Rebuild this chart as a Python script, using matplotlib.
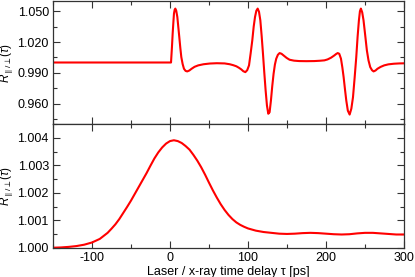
import numpy as np
import matplotlib.pyplot as plt
from matplotlib.ticker import MultipleLocator


# upper panel: R_par/perp(tau)
tau_top = [-150, 0, 1.3, 2.5, 3.4, 4.3, 5.1, 6.0, 6.8, 8.0, 9.4, 10.6, 11.9,
           13.2, 14.5, 16.2, 17.9, 20, 22.1, 24.8, 27.7, 31.5, 36.2, 43, 51.1,
           60, 70, 76.6, 81, 85.1, 88.5, 91.5, 94, 96.6, 99, 101.3, 103.4,
           105.5, 107.3, 109, 110.7, 112.4, 114.1, 115.8, 117.5, 119.2, 120.9,
           122.6, 124.3, 126, 127.7, 129.4, 131.1, 132.8, 134.5, 136.2, 138.3,
           140.5, 143, 145.6, 149.5, 153.3, 159, 165.6, 175, 185, 192, 198,
           202, 206.5, 210.5, 213, 215, 217, 219.2, 221, 222.6, 224.3, 226,
           228, 230.3, 232.5, 234.6, 236.7, 238.8, 240.5, 242.2, 243.5, 244.7,
           246.4, 248.1, 250.2, 252.4, 254.5, 256.7, 259, 261, 263.5, 266, 270,
           274.6, 280, 287, 294, 300]
r_top = [1.000, 1.000, 1.000, 1.015, 1.028, 1.039, 1.0478, 1.0515, 1.0526,
         1.0505, 1.0444, 1.035, 1.0249, 1.0145, 1.0053, 0.9985, 0.9939, 0.9918,
         0.9913, 0.9922, 0.9939, 0.9958, 0.9972, 0.9983, 0.9990, 0.9993,
         0.9991, 0.9983, 0.9974, 0.9963, 0.9948, 0.9932, 0.9915, 0.9906,
         0.9925, 0.9972, 1.009, 1.0216, 1.035, 1.0444, 1.0505, 1.0526, 1.0495,
         1.0412, 1.026, 1.0086, 0.990, 0.9727, 0.958, 0.9500, 0.9515, 0.9629,
         0.977, 0.9890, 0.998, 1.0037, 1.0075, 1.0092, 1.0085, 1.0069, 1.0045,
         1.0027, 1.0018, 1.0014, 1.0013, 1.0014, 1.0017, 1.0021, 1.0030,
         1.0047, 1.0068, 1.0083, 1.0092, 1.0085, 1.0037, 0.995, 0.9857, 0.974,
         0.9629, 0.953, 0.9492, 0.955, 0.9661, 0.985, 1.0053, 1.025, 1.0412,
         1.050, 1.0526, 1.049, 1.0412, 1.027, 1.0118, 1.002, 0.9955, 0.9925,
         0.9913, 0.9922, 0.9939, 0.9957, 0.9972, 0.9982, 0.9988, 0.9991,
         0.9992]

# lower panel
tau_bot = [-150, -140, -130, -120, -110, -100, -90, -80, -75, -70, -65, -60,
           -55, -50, -45, -40, -35, -30, -25, -20, -15, -10, -5, 0, 5, 10, 15,
           20, 25, 30, 35, 40, 45, 50, 55, 60, 65, 70, 75, 80, 85, 90, 95, 100,
           110, 120, 130, 140, 150, 160, 170, 180, 190, 200, 210, 220, 230,
           240, 250, 260, 270, 280, 290, 300]
r_bot = [1.00001, 1.00002, 1.00004, 1.00007, 1.00012, 1.00020, 1.00033,
         1.00055, 1.00070, 1.00086, 1.00105, 1.00127, 1.00149, 1.00172,
         1.00197, 1.00222, 1.00247, 1.00272, 1.00299, 1.00325, 1.00347,
         1.00365, 1.00379, 1.00388, 1.00391, 1.00388, 1.00381, 1.00370,
         1.00357, 1.00338, 1.00317, 1.00293, 1.00266, 1.00237, 1.00209,
         1.00183, 1.00159, 1.00138, 1.00120, 1.00105, 1.00093, 1.00084,
         1.00077, 1.00071, 1.00063, 1.00058, 1.00055, 1.00052, 1.00051,
         1.00052, 1.00054, 1.00055, 1.00054, 1.00052, 1.00050, 1.00049,
         1.00050, 1.00053, 1.00055, 1.00055, 1.00053, 1.00051, 1.00049,
         1.00049]

plt.rcParams['font.family'] = ['Liberation Sans', 'DejaVu Sans']
plt.rcParams['axes.unicode_minus'] = False
plt.rcParams['mathtext.fontset'] = 'custom'
plt.rcParams['mathtext.rm'] = 'Liberation Sans'
plt.rcParams['mathtext.it'] = 'Liberation Sans:italic'

fig = plt.figure(figsize=(4.15, 2.77), dpi=100)
ax1 = fig.add_axes([53 / 415, 1 - 124 / 277, 351 / 415, 123 / 277])
ax2 = fig.add_axes([53 / 415, 1 - 248 / 277, 351 / 415, 124 / 277])

ax1.plot(tau_top, r_top, color='red', lw=1.5)
ax2.plot(tau_bot, r_bot, color='red', lw=1.5)

ax1.set_ylim(0.94, 1.06)
ax1.yaxis.set_minor_locator(MultipleLocator(0.015))
ax1.set_yticks([0.96, 0.99, 1.02, 1.05])
ax1.set_yticklabels(['0.960', '0.990', '1.020', '1.050'])

ax2.set_ylim(1.0, 1.0045)
ax2.yaxis.set_minor_locator(MultipleLocator(0.0005))
ax2.set_yticks([1.0, 1.001, 1.002, 1.003, 1.004])
ax2.set_yticklabels(['1.000', '1.001', '1.002', '1.003', '1.004'])

for ax in (ax1, ax2):
    ax.set_xlim(-150, 300)
    ax.xaxis.set_major_locator(MultipleLocator(100))
    ax.xaxis.set_minor_locator(MultipleLocator(50))
    ax.tick_params(which='both', direction='in', top=True, right=True,
                   labelsize=9, color='#333333', pad=3)
    ax.tick_params(which='major', length=5, width=0.8)
    ax.tick_params(which='minor', length=3, width=0.8)
    for s in ax.spines.values():
        s.set_color('#333333')
        s.set_linewidth(0.9)

ax1.tick_params(labelbottom=False)
ax1.set_ylabel(r'$R_{\parallel/\perp}(\tau)$', fontsize=8.5)
ax2.set_ylabel(r'$R_{\parallel/\perp}(\tau)$', fontsize=8.5)
for ax in (ax1, ax2):
    ax.yaxis.set_label_coords(-0.104, 0.5)
ax2.set_xlabel('Laser / x-ray time delay τ [ps]', fontsize=9, labelpad=1)

fig.savefig('out.png', dpi=100)
